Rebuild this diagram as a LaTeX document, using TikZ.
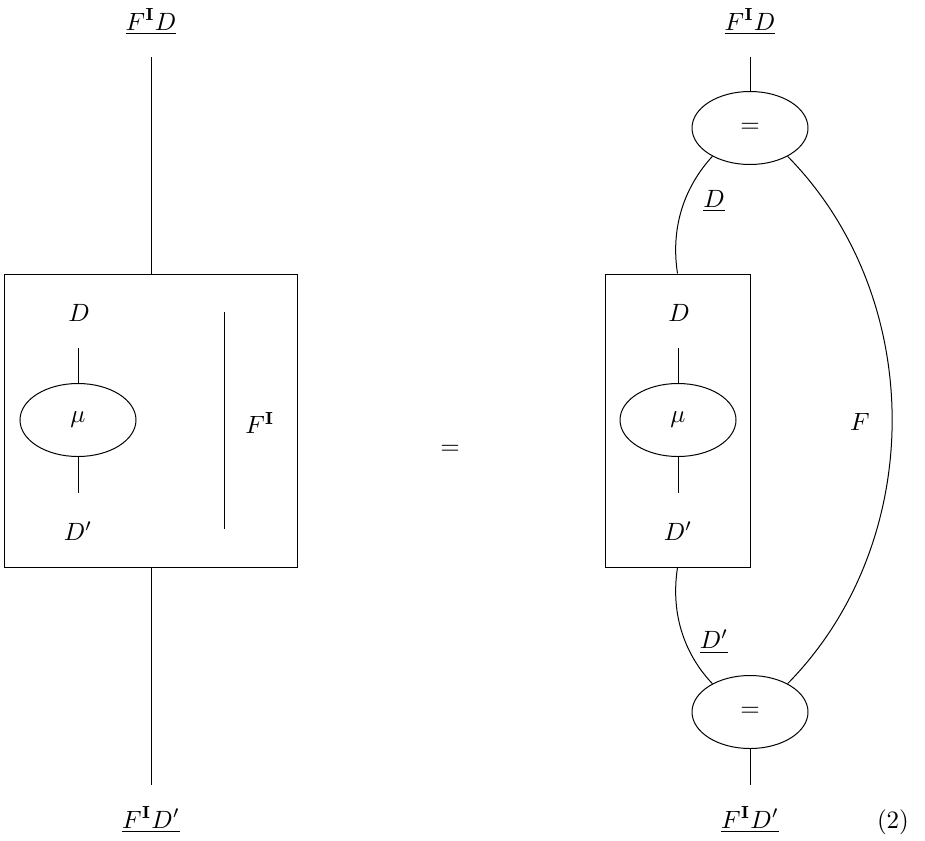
\documentclass[tikz,border=0pt]{standalone}
\usetikzlibrary{shapes.geometric}
\begin{document}
\begin{tikzpicture}[x=0.4pt,y=-0.4pt,
  wire/.style={line width=0.4pt},
  blob/.style={ellipse,draw,line width=0.4pt,minimum width=46.4pt,minimum height=29.2pt,inner sep=0pt},
  frame/.style={draw,line width=0.4pt,inner sep=0pt},
  lbl/.style={inner sep=0pt}]
\useasboundingbox (0,0) rectangle (925,840);

% ---- left-hand side ----
\node[lbl] (lTop) at (151,22) {$\underline{F^{\mathbf{I}}D}$};
\coordinate (lTopEnd) at (151,57);
\node[frame,minimum width=116.8pt,minimum height=117.2pt] (lBox) at (151,420.5) {};
\draw[wire] (lTopEnd) -- (lBox.north);
\coordinate (lBotEnd) at (151,785);
\draw[wire] (lBox.south) -- (lBotEnd);
\node[lbl] (lBot) at (151,820) {$\underline{F^{\mathbf{I}}D'}$};

\node[lbl] (lD) at (79,313) {$D$};
\coordinate (lDend) at (78,348);
\node[blob] (lMu) at (78,420) {$\mu$};
\coordinate (lDpend) at (78,493);
\node[lbl] (lDp) at (78,531) {$D'$};
\draw[wire] (lDend) -- (lMu.north);
\draw[wire] (lMu.south) -- (lDpend);

\coordinate (lFa) at (224,312);
\coordinate (lFb) at (224,529);
\draw[wire] (lFa) -- (lFb);
\node[lbl] (lF) at (260,423) {$F^{\mathbf{I}}$};

% ---- equality sign ----
\node[lbl] (eq) at (450,450) {$=$};

% ---- right-hand side ----
\node[lbl] (rTop) at (750,22) {$\underline{F^{\mathbf{I}}D}$};
\coordinate (rTopEnd) at (750,57);
\node[blob] (eqT) at (750,128) {$=$};
\draw[wire] (rTopEnd) -- (eqT.north);

\node[frame,minimum width=58pt,minimum height=117.2pt] (rBox) at (677.5,420.5) {};
\node[lbl] (rD) at (679,313) {$D$};
\coordinate (rDend) at (678,348);
\node[blob] (rMu) at (678,420) {$\mu$};
\coordinate (rDpend) at (678,493);
\node[lbl] (rDp) at (678,531) {$D'$};
\draw[wire] (rDend) -- (rMu.north);
\draw[wire] (rMu.south) -- (rDpend);

\node[blob] (eqB) at (750,712) {$=$};
\coordinate (rBotEnd) at (750,785);
\draw[wire] (eqB.south) -- (rBotEnd);
\node[lbl] (rBot) at (750,820) {$\underline{F^{\mathbf{I}}D'}$};

% strands around the box
\draw[wire] (eqT.217) .. controls (686,185) and (670,225) .. (rBox.north);
\draw[wire] (rBox.south) .. controls (670,616) and (686,656) .. (eqB.143);
\draw[wire] (eqT.323) .. controls (927,298) and (927,542) .. (eqB.37);

\node[lbl] (uD) at (714,201) {$\underline{D}$};
\node[lbl] (uDp) at (714,642) {$\underline{D'}$};
\node[lbl] (rF) at (860,422) {$F$};

\node[lbl] (num) at (893,822) {$(2)$};
\end{tikzpicture}
\end{document}
